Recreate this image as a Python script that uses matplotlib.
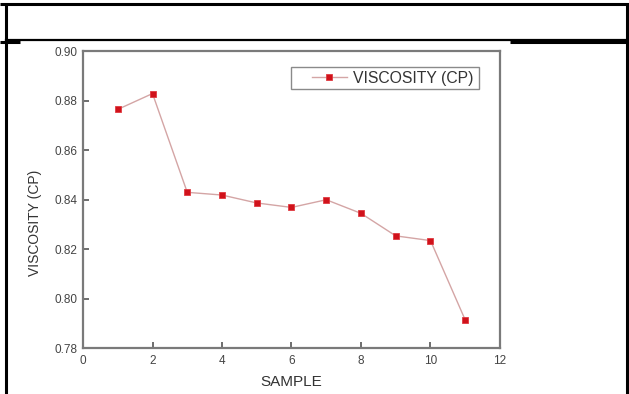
import matplotlib.pyplot as plt
from matplotlib.lines import Line2D
from matplotlib.patches import Rectangle

# Data
samples = [1, 2, 3, 4, 5, 6, 7, 8, 9, 10, 11]
viscosity = [0.8764, 0.8828, 0.8429, 0.8418, 0.8386, 0.8368, 0.8399, 0.8344, 0.8253, 0.8234, 0.7913]
x_ticks = [0, 2, 4, 6, 8, 10, 12]
y_ticks = [0.78, 0.80, 0.82, 0.84, 0.86, 0.88, 0.90]

plt.rcParams['font.family'] = ['Liberation Sans', 'DejaVu Sans']

W, H = 629, 394
fig = plt.figure(figsize=(W / 100, H / 100), dpi=100)

# Main chart area (pixel box 83..500 x 51..348)
ax = fig.add_axes([83 / W, 1 - 348 / H, 417 / W, 297 / H])
ax.plot(samples, viscosity, color='#d4a5a5', linewidth=1.0,
        marker='s', markersize=5, markerfacecolor='#d0121b',
        markeredgecolor='#e03a40', markeredgewidth=0.6,
        label='VISCOSITY (CP)')

ax.set_xlim(0, 12)
ax.set_ylim(0.78, 0.90)
ax.set_xticks(x_ticks)
ax.set_yticks(y_ticks)
ax.set_yticklabels([f'{v:.2f}' for v in y_ticks])
ax.tick_params(direction='in', length=4, width=1.2, color='#555555',
               labelsize=8.5, labelcolor='#444444')
ax.tick_params(axis='x', pad=5)
ax.tick_params(axis='y', pad=4)
for s in ax.spines.values():
    s.set_color('#7a7a7a')
    s.set_linewidth(1.6)

ax.set_xlabel('SAMPLE', fontsize=11, color='#333333', labelpad=6)
ax.set_ylabel('VISCOSITY (CP)', fontsize=10, color='#333333')
ax.yaxis.set_label_coords(-0.098, 0.42)

# legend without its own frame; frame drawn below so the left padding matches
leg = ax.legend(loc='center left', bbox_to_anchor=((312 - 83) / 417, (348 - 78) / 297),
                borderaxespad=0, borderpad=0, frameon=False, fontsize=11.3,
                handlelength=2.2, handletextpad=0.4, labelcolor='#333333')

# Overlay in pixel coordinates for the legend frame and the table borders
ov = fig.add_axes([0, 0, 1, 1], facecolor='none')
ov.set_xlim(0, W)
ov.set_ylim(H, 0)
ov.axis('off')
ov.add_patch(Rectangle((291, 67), 188, 22, fill=False, edgecolor='#8a8a8a', linewidth=1.0))
black = dict(color='black', linewidth=2.2, solid_capstyle='butt')
ov.add_line(Line2D([0, W], [4, 4], **black))
ov.add_line(Line2D([6, 6], [4, H], **black))
ov.add_line(Line2D([627, 627], [4, H], **black))
ov.add_line(Line2D([6, 627], [40, 40], color='black', linewidth=1.6))
ov.add_line(Line2D([0, 20], [42, 42], **black))
ov.add_line(Line2D([510, W], [42, 42], **black))

fig.savefig('out.png', dpi=100)
